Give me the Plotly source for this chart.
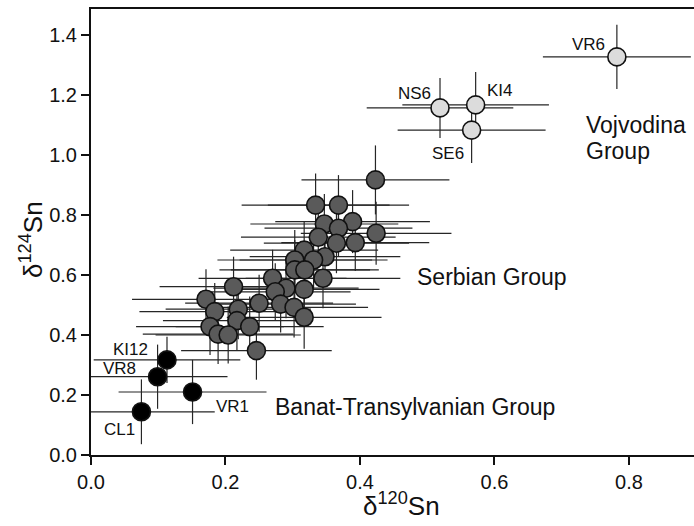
import plotly.graph_objects as go

# ---- data ----
# Vojvodina Group (light grey)
voj_names = ["VR6", "NS6", "KI4", "SE6"]
voj_x = [0.782, 0.519, 0.572, 0.566]
voj_y = [1.327, 1.157, 1.167, 1.083]
voj_ex = [0.110, 0.109, 0.109, 0.110]
voj_ey = [0.107, 0.100, 0.110, 0.110]

# Banat-Transylvanian Group (black)
bt_names = ["KI12", "VR8", "VR1", "CL1"]
bt_x = [0.113, 0.099, 0.151, 0.075]
bt_y = [0.317, 0.261, 0.210, 0.144]
bt_ex = [0.109, 0.104, 0.110, 0.109]
bt_ey = [0.077, 0.107, 0.107, 0.108]

# Serbian Group (dark grey)
ser_x = [0.423, 0.334, 0.368, 0.389, 0.347, 0.424, 0.338, 0.368, 0.365, 0.393,
         0.348, 0.317, 0.303, 0.331, 0.303, 0.318, 0.345, 0.270, 0.290, 0.317,
         0.212, 0.274, 0.171, 0.282, 0.302, 0.317, 0.250, 0.219, 0.184, 0.217,
         0.177, 0.189, 0.204, 0.236, 0.246]
ser_y = [0.917, 0.833, 0.833, 0.778, 0.770, 0.739, 0.726, 0.756, 0.706, 0.708,
         0.661, 0.683, 0.650, 0.650, 0.617, 0.617, 0.589, 0.589, 0.556, 0.552,
         0.561, 0.544, 0.519, 0.503, 0.492, 0.459, 0.506, 0.486, 0.478, 0.448,
         0.428, 0.403, 0.400, 0.428, 0.348]
ser_ex = [0.110, 0.110, 0.105, 0.115, 0.110, 0.112, 0.115, 0.110, 0.108, 0.110,
          0.112, 0.110, 0.115, 0.110, 0.112, 0.110, 0.115, 0.110, 0.108, 0.112,
          0.110, 0.112, 0.110, 0.112, 0.110, 0.115, 0.110, 0.108, 0.112, 0.110,
          0.110, 0.112, 0.108, 0.110, 0.112]
ser_ey = [0.115, 0.105, 0.100, 0.105, 0.100, 0.105, 0.100, 0.095, 0.100, 0.095,
          0.100, 0.095, 0.100, 0.095, 0.100, 0.095, 0.100, 0.095, 0.100, 0.095,
          0.100, 0.095, 0.100, 0.095, 0.100, 0.105, 0.095, 0.100, 0.095, 0.100,
          0.095, 0.100, 0.095, 0.100, 0.097]

x_ticks = [0.0, 0.2, 0.4, 0.6, 0.8]
y_ticks = [0.0, 0.2, 0.4, 0.6, 0.8, 1.0, 1.2, 1.4]

FONT = "Liberation Sans, Arial, sans-serif"
ERR_COLOR = "#262626"

W, H = 694, 526
ML, MR, MT, MB = 91, 0, 9, 71
pw, ph = W - ML - MR, H - MT - MB

fig = go.Figure()


def add_group(xs, ys, exs, eys, fill):
    fig.add_trace(go.Scatter(
        x=xs, y=ys, mode="markers",
        marker=dict(size=18, color=fill, line=dict(color="#111111", width=1.6)),
        error_x=dict(type="data", array=exs, visible=True, width=0,
                     color=ERR_COLOR, thickness=1.2),
        error_y=dict(type="data", array=eys, visible=True, width=0,
                     color=ERR_COLOR, thickness=1.2),
        showlegend=False, hoverinfo="skip"))


add_group(ser_x, ser_y, ser_ex, ser_ey, "#5a5a5a")
add_group(bt_x, bt_y, bt_ex, bt_ey, "#000000")
add_group(voj_x, voj_y, voj_ex, voj_ey, "#dcdcdc")

# point labels (pixel offsets from the points)
label_offsets = {
    "VR6": (-28, 12), "NS6": (-26, 14), "KI4": (24, 14), "SE6": (-24, -23),
    "KI12": (-36, 10), "VR8": (-38, 8), "VR1": (40, -14), "CL1": (-22, -18),
}
annotations = []
for names, xs, ys in [(voj_names, voj_x, voj_y), (bt_names, bt_x, bt_y)]:
    for n, xv, yv in zip(names, xs, ys):
        dx, dy = label_offsets[n]
        annotations.append(dict(x=xv, y=yv, xref="x", yref="y", text=n,
                                showarrow=False, xshift=dx, yshift=dy,
                                font=dict(family=FONT, size=17, color="#111")))

grp_font = dict(family=FONT, size=23, color="#111")
for txt, xv, yv in [("Serbian Group", 0.482, 0.595),
                    ("Banat-Transylvanian Group", 0.2706, 0.16),
                    ("Vojvodina", 0.733, 1.10),
                    ("Group", 0.733, 1.013)]:
    annotations.append(dict(x=xv, y=yv, xref="x", yref="y", text=txt,
                            showarrow=False, xanchor="left", yanchor="middle",
                            font=grp_font))

# axis titles (positions given in pixels, converted to paper coords)
annotations.append(dict(x=(401 - ML) / pw, y=(H - MB - 504) / ph,
                        xref="paper", yref="paper",
                        text="δ<sup>120</sup>Sn", showarrow=False,
                        xanchor="center", yanchor="middle",
                        font=dict(family=FONT, size=26, color="#111")))
annotations.append(dict(x=(31 - ML) / pw, y=(H - MB - 240) / ph,
                        xref="paper", yref="paper",
                        text="δ<sup>124</sup>Sn", showarrow=False,
                        textangle=-90, xanchor="center", yanchor="middle",
                        font=dict(family=FONT, size=26, color="#111")))

fig.update_layout(
    width=W, height=H,
    margin=dict(l=ML, r=MR, t=MT, b=MB, pad=0),
    paper_bgcolor="white", plot_bgcolor="white",
    font=dict(family=FONT, color="#111"),
    annotations=annotations,
    xaxis=dict(range=[0, 0.8967], tickvals=x_ticks, tickformat=".1f",
               showgrid=False, zeroline=False, showline=True, mirror=True,
               linecolor="#111", linewidth=2, ticks="outside", ticklen=8,
               tickwidth=2, tickcolor="#111",
               tickfont=dict(family=FONT, size=20, color="#111")),
    yaxis=dict(range=[0, 1.4867], tickvals=y_ticks, tickformat=".1f",
               showgrid=False, zeroline=False, showline=True, mirror=False,
               linecolor="#111", linewidth=2, ticks="outside", ticklen=8,
               tickwidth=2, tickcolor="#111",
               tickfont=dict(family=FONT, size=20, color="#111")),
)

fig.write_html(
    "out.html",
    config={"displayModeBar": False},
    post_script="document.body.style.margin='0';document.body.style.padding='0';"
                "document.body.style.overflow='hidden';",
)
